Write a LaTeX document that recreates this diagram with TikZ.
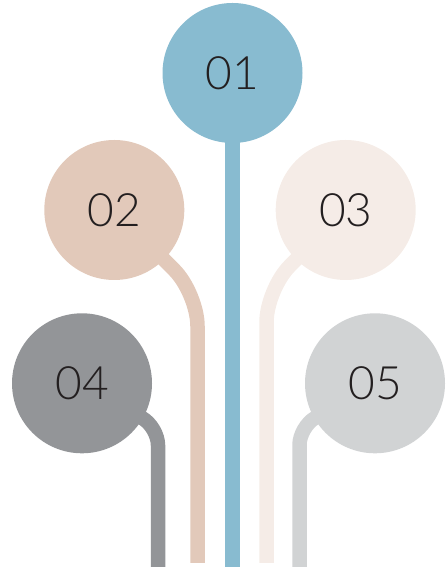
\documentclass[tikz,border=0pt]{standalone}
\usepackage{fontspec}
\setmainfont{Lato}[UprightFont=* Light]
\usepackage{tikz}
\usetikzlibrary{calc}
\definecolor{colone}{HTML}{88BBD0}
\definecolor{coltwo}{HTML}{E2C9BA}
\definecolor{colthree}{HTML}{F5ECE7}
\definecolor{colfour}{HTML}{939598}
\definecolor{colfive}{HTML}{D1D3D4}
\definecolor{numtext}{HTML}{231F20}
\tikzset{
    stemline/.style={line width=14.5pt},
    bubble/.style={circle, minimum size=140pt, inner sep=0pt, text=numtext,
        font=\fontsize{46}{46}\selectfont}
}

\begin{document}
\begin{tikzpicture}[x=1pt,y=1pt]
\useasboundingbox (0,0) rectangle (447,567);
\coordinate (P1) at (232.5,494);
\coordinate (P2) at (114.3,357);
\coordinate (P3) at (345.7,357);
\coordinate (P4) at (82,183.7);
\coordinate (P5) at (375,183.7);
\coordinate (K2) at (197.5,273.8);
\coordinate (K3) at (266.5,277.8);
\coordinate (K4) at (158,139.8);
\coordinate (K5) at (299.5,140.1);
\coordinate (B1) at (232.5,0);
\coordinate (B2) at (197.5,4);
\coordinate (B3) at (266.5,4);
\coordinate (B4) at (158,0);
\coordinate (B5) at (299.5,0);

\draw[stemline,colone] (P1) -- (B1);
\draw[stemline,coltwo,rounded corners=33pt] (P2) -- (K2) -- (B2);
\draw[stemline,colthree,rounded corners=33pt] (P3) -- (K3) -- (B3);
\draw[stemline,colfour,rounded corners=18pt] (P4) -- (K4) -- (B4);
\draw[stemline,colfive,rounded corners=18pt] (P5) -- (K5) -- (B5);

\node[bubble,fill=colone] (N1) at (P1) {01};
\node[bubble,fill=coltwo] (N2) at (P2) {02};
\node[bubble,fill=colthree] (N3) at (P3) {03};
\node[bubble,fill=colfour] (N4) at (P4) {04};
\node[bubble,fill=colfive] (N5) at (P5) {05};
\end{tikzpicture}
\end{document}
